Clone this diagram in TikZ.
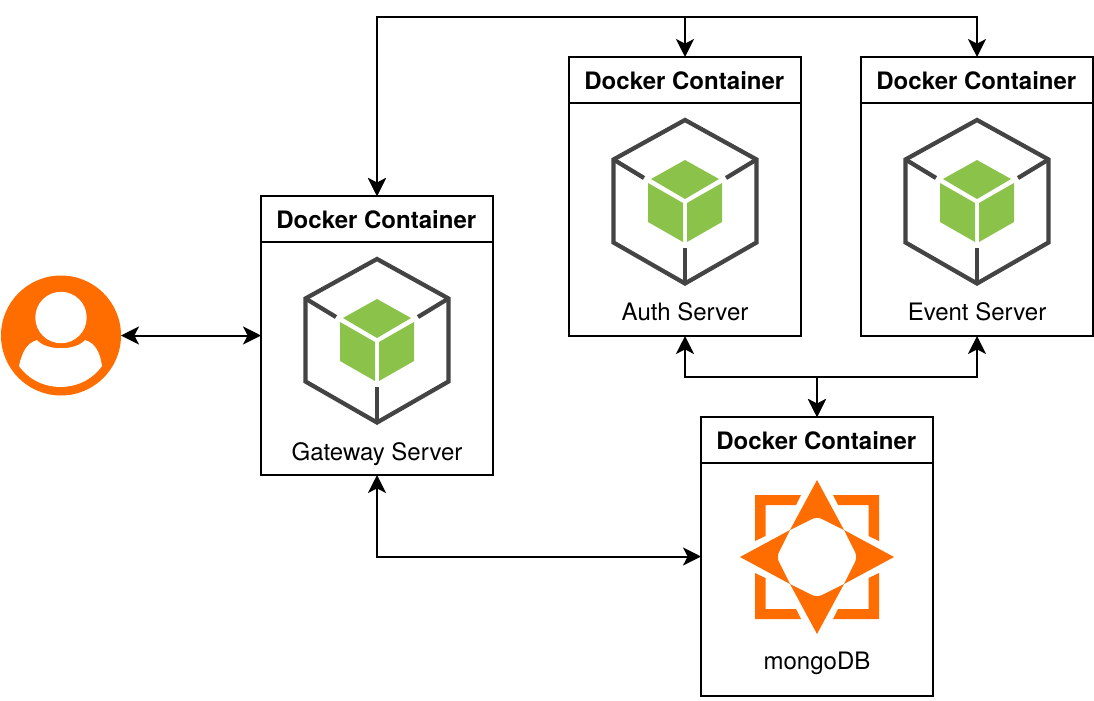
\documentclass[tikz,border=0pt]{standalone}
\usepackage{fontspec}
\setmainfont{TeX Gyre Heros}
\usetikzlibrary{arrows.meta,positioning}
\definecolor{cubedark}{HTML}{444444}
\definecolor{cubegreen}{HTML}{8BC34A}
\definecolor{iconorange}{HTML}{FF6D00}
\tikzset{
  container/.style={draw=black,line width=1.5pt,fill=white,minimum width=174pt,minimum height=209.25pt,inner sep=0pt,outer sep=0pt},
  header/.style={draw=black,line width=1.5pt,fill=white,minimum width=174pt,minimum height=34.5pt,inner sep=0pt,outer sep=0pt},
  headtext/.style={font=\fontsize{18pt}{20pt}\selectfont\bfseries,inner sep=0pt,anchor=base},
  caption/.style={font=\fontsize{18pt}{20pt}\selectfont,inner sep=0pt,anchor=base},
  link/.style={line width=1.5pt,{Stealth[length=13.5pt,width=13.5pt,inset=3.5pt]}-{Stealth[length=13.5pt,width=13.5pt,inset=3.5pt]}},
  cubeicon/.pic={
    \draw[cubedark,line width=3.2pt,line join=miter] (0,-81) -- (71.5,-41.5) -- (71.5,41.5) -- (0,82.5) -- (-71.5,41.5) -- (-71.5,-41.5) -- cycle;
    \draw[cubedark,line width=3.2pt] (-71.5,-41.5) -- (-41,-23);
    \draw[cubedark,line width=3.2pt] (71.5,-41.5) -- (41,-23);
    \draw[cubedark,line width=3.2pt] (0,47) -- (0,82.5);
    \fill[cubegreen] (0,-41) -- (34,-22) -- (0,-2) -- (-34,-22) -- cycle;
    \fill[cubegreen] (-37,-18) -- (-2,2) -- (-2,41) -- (-37,21) -- cycle;
    \fill[cubegreen] (37,-18) -- (2,2) -- (2,41) -- (37,21) -- cycle;
  },
  bracket/.pic={
    \fill[iconorange] (-62,-62) -- (-16,-62) -- (-21,-52) -- (-51.5,-52) -- (-51.5,-21) -- (-62,-16) -- cycle;
  },
  starpoint/.pic={
    \fill[iconorange] (0,-77) -- (27,-27) -- (5,-38) .. controls (2,-39.5) and (-2,-39.5) .. (-5,-38) -- (-27,-27) -- cycle;
  },
}
\begin{document}
\begin{tikzpicture}[x=0.75pt,y=-0.75pt]
\useasboundingbox (0,0) rectangle (1094,700);
\fill[white] (0,0) rectangle (1094,700);

% containers
\node[container] (gw) at (377,335.5) {};
\node[container] (auth) at (685,196.5) {};
\node[container] (event) at (977,196.5) {};
\node[container] (mongo) at (817,556.5) {};
\node[header] (gwh) at (377,219) {};
\node[header] (authh) at (685,80) {};
\node[header] (eventh) at (977,80) {};
\node[header] (mongoh) at (817,440) {};
\node[headtext] (gwt) at (376.3,228.5) {Docker Container};
\node[headtext] (autht) at (684.3,89.5) {Docker Container};
\node[headtext] (eventt) at (976.3,89.5) {Docker Container};
\node[headtext] (mongot) at (816.3,449.5) {Docker Container};

% cube icons
\pic at (377,340) {cubeicon};
\pic at (685,201) {cubeicon};
\pic at (977,201) {cubeicon};

% database icon
\begin{scope}[shift={(817,557)}]
  \pic at (0,0) {bracket};
  \pic[xscale=-1] at (0,0) {bracket};
  \pic[yscale=-1] at (0,0) {bracket};
  \pic[xscale=-1,yscale=-1] at (0,0) {bracket};
  \pic at (0,0) {starpoint};
  \pic[yscale=-1] at (0,0) {starpoint};
  \pic[rotate=90] at (0,0) {starpoint};
  \pic[rotate=-90] at (0,0) {starpoint};
\end{scope}

% captions
\node[caption] (gwl) at (377,460.4) {Gateway Server};
\node[caption] (authl) at (685,320.7) {Auth Server};
\node[caption] (eventl) at (977,320.7) {Event Server};
\node[caption] (mongol) at (817,669.8) {mongoDB};

% user
\node[circle,fill=iconorange,minimum size=90pt,inner sep=0pt,outer sep=0pt] (user) at (61,335.5) {};
\fill[white] (61,317.5) circle[radius=25.7];
\fill[white] (19,366) .. controls (22,352) and (27,343) .. (37,340) .. controls (46,351) and (76,351) .. (85,340) .. controls (95,343) and (100,352) .. (102,366) .. controls (82,394) and (39,394) .. (19,366) -- cycle;

% connectors
\coordinate (topauth) at (685,17);
\coordinate (topevent) at (977,17);
\coordinate (midm) at (817,377);
\draw[link] (user.east) -- (user.east -| gw.west);
\draw[link] (gw.north) |- (topauth) -- (authh.north);
\draw[link] (gw.north) |- (topevent) -- (eventh.north);
\draw[link] (auth.south) |- (midm) -- (mongoh.north);
\draw[link] (event.south) |- (midm) -- (mongoh.north);
\draw[link] (gw.south) |- (mongo.west);
\end{tikzpicture}
\end{document}
